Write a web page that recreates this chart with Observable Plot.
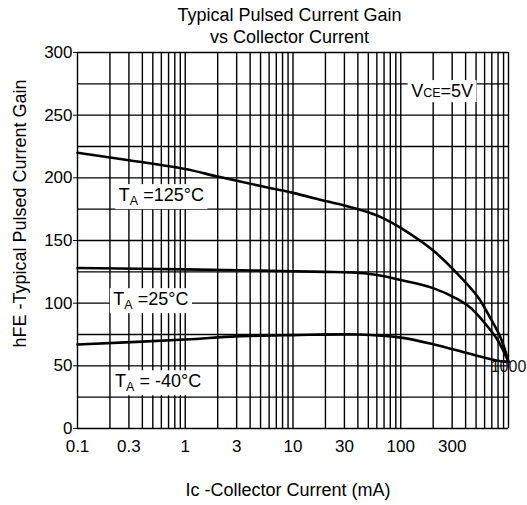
<!DOCTYPE html>
<html><head><meta charset="utf-8">
<script src="https://cdn.jsdelivr.net/npm/d3@7"></script>
<script src="https://cdn.jsdelivr.net/npm/@observablehq/plot@0.6"></script>
<style>
body{margin:0;background:#fff;font-family:"Liberation Sans",Arial,Helvetica,sans-serif;}
#title{width:527px;box-sizing:border-box;height:48px;padding:5px 0 0 52px;text-align:center;font-size:18px;line-height:21.5px;color:#000;}
#chart svg{display:block;}
</style></head><body>
<div id="title">Typical Pulsed Current Gain<br>vs Collector Current</div>
<div id="chart"></div>
<script>
// ---- data ----
const xGrid = [0.1,0.2,0.3,0.4,0.5,0.6,0.7,0.8,0.9,
  1,2,3,4,5,6,7,8,9,
  10,20,30,40,50,60,70,80,90,
  100,200,300,400,500,600,700,800,900,1000];
const yGrid = [0,25,50,75,100,125,150,175,200,225,250,275,300];
const yTicks = [0,50,100,150,200,250,300];
const xTicks = [0.1,0.3,1,3,10,30,100,300];
const xTickLabels = ["0.1","0.3","1","3","10","30","100","300"];

const current125 = [0.1,0.3,1,2,5,10,20,30,50,70,100,200,340,520,690,820,910,1000];
const hfe125     = [220,214,207,201,193.5,188,181.5,178,172.5,167.5,160,142,123,105,87,75,65,53];

const current25 = [0.1,1,5,20,30,50,70,100,200,340,450,590,800,1000];
const hfe25     = [128,127,126,125,124.7,123.5,121.5,118.5,112,103,96,85,70,53];

const currentM40 = [0.1,1,3,10,40,100,200,420,750,1000];
const hfeM40     = [67,71,73.5,74.5,75,72.5,67.2,60,54.5,53];

const seriesNames = ["125°C","25°C","-40°C"];

const labelTexts = ["V[CE]=5V","T{A} =125°C","T{A} =25°C","T{A} = -40°C"];
const labelX = [242,0.6,0.48,0.56];
const labelY = [269,186,103,37.5];

const endLabel = ["1000"];
const endLabelX = [1000];
const endLabelY = [49];

const xTitle = "Ic -Collector Current (mA)";
const yTitle = "hFE -Typical Pulsed Current Gain";

// ---- tables ----
const rows = [
  ...current125.map((c,i)=>({series:seriesNames[0], ic:c, hfe:hfe125[i]})),
  ...current25.map((c,i)=>({series:seriesNames[1], ic:c, hfe:hfe25[i]})),
  ...currentM40.map((c,i)=>({series:seriesNames[2], ic:c, hfe:hfeM40[i]}))
];
const labels = labelTexts.map((t,i)=>({text:t, x:labelX[i], y:labelY[i]}));
const ends = endLabel.map((t,i)=>({text:t, x:endLabelX[i], y:endLabelY[i]}));
const xTickRows = xTicks.map((v,i)=>({v, label:xTickLabels[i]}));

const font = '"Liberation Sans",Arial,Helvetica,sans-serif';
const plot = Plot.plot({
  width: 527, height: 457,
  marginTop: 4, marginBottom: 77, marginLeft: 77, marginRight: 19,
  x: {type: "log", domain: [0.1, 1000], axis: null},
  y: {type: "linear", domain: [0, 300], axis: null},
  style: {fontFamily: font, fontSize: "17px", color: "#000", background: "#fff", overflow: "visible"},
  marks: [
    Plot.ruleX(xGrid, {stroke: "#000", strokeWidth: 1.4}),
    Plot.ruleY(yGrid, {stroke: "#000", strokeWidth: 1.4}),
    Plot.text(labels, {x: "x", y: "y", text: "text", fontSize: 18, fill: "#000", ariaDescription: "boxed"}),
    Plot.line(rows, {x: "ic", y: "hfe", z: "series", stroke: "#000", strokeWidth: 2.6, curve: "catmull-rom"}),
    Plot.text(ends, {x: "x", y: "y", text: "text", fontSize: 16, fill: "#111"}),
    Plot.axisY({ticks: yTicks, tickSize: 4, tickPadding: 1, label: null, fontSize: 17, stroke: "#000"}),
    Plot.text(xTickRows, {x: "v", text: "label", frameAnchor: "bottom", textAnchor: "middle", lineAnchor: "top", dy: 11, fontSize: 17, fill: "#000"}),
    Plot.text([yTitle], {text: d => d, frameAnchor: "left", textAnchor: "middle", lineAnchor: "middle", rotate: -90, dx: -57, dy: -27, fontSize: 18}),
    Plot.text([xTitle], {text: d => d, frameAnchor: "bottom", textAnchor: "middle", lineAnchor: "middle", dx: -5, dy: 62, fontSize: 18})
  ]
});
document.getElementById("chart").append(plot);

// ---- sub/small text + white label boxes ----
const ns = "http://www.w3.org/2000/svg";
const padX = 3.5, padY = 1;
plot.querySelectorAll('g[aria-description="boxed"] text').forEach(t => {
  const raw = t.textContent;
  const parts = raw.match(/(\{[^}]*\}|\[[^\]]*\]|[^{\[]+)/g) || [raw];
  t.textContent = "";
  let shift = 0;
  for (const p of parts) {
    const ts = document.createElementNS(ns, "tspan");
    if (p[0] === "{") {
      ts.textContent = p.slice(1, -1);
      ts.setAttribute("font-size", "12.5");
      ts.setAttribute("dy", "4");
      shift = 4;
    } else if (p[0] === "[") {
      ts.textContent = p.slice(1, -1);
      ts.setAttribute("font-size", "12.5");
      if (shift) { ts.setAttribute("dy", String(-shift)); shift = 0; }
    } else {
      ts.textContent = p;
      if (shift) { ts.setAttribute("dy", String(-shift)); shift = 0; }
    }
    t.append(ts);
  }
  const b = t.getBBox();
  const r = document.createElementNS(ns, "rect");
  r.setAttribute("x", b.x - padX);
  r.setAttribute("y", b.y - padY);
  r.setAttribute("width", b.width + 2 * padX);
  r.setAttribute("height", b.height + 2 * padY);
  r.setAttribute("fill", "#fff");
  r.setAttribute("stroke", "none");
  const tr = t.getAttribute("transform");
  if (tr) r.setAttribute("transform", tr);
  t.parentNode.insertBefore(r, t);
});
</script>
</body></html>
